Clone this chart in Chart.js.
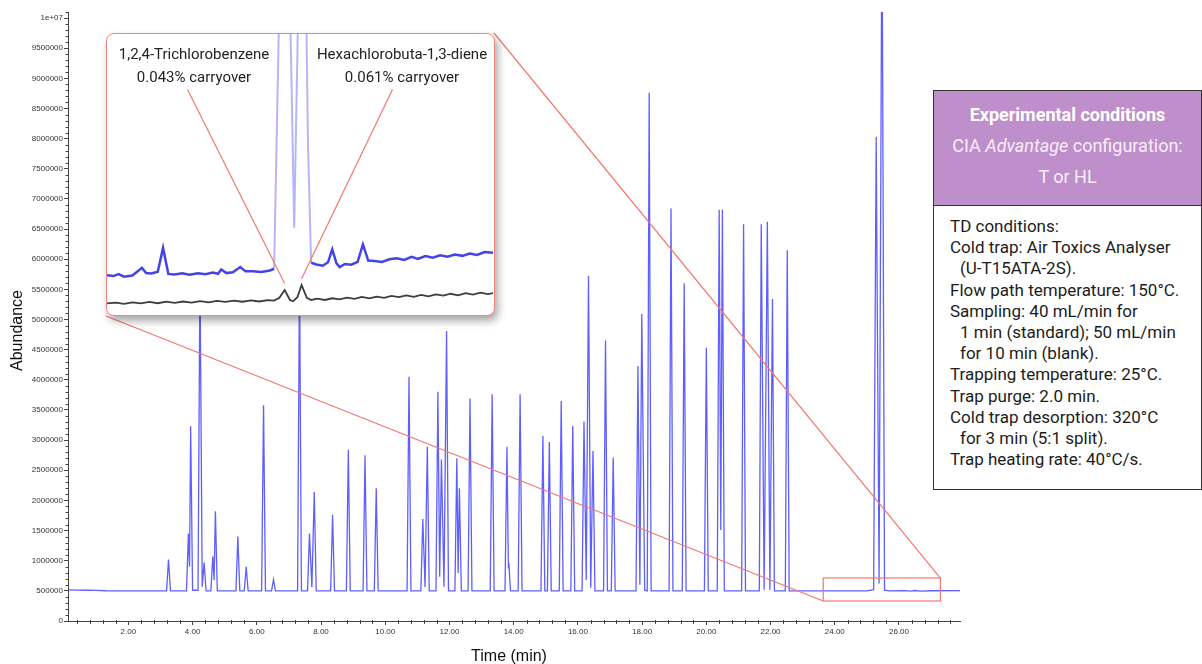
<!DOCTYPE html>
<html>
<head>
<meta charset="utf-8">
<script src="https://cdn.jsdelivr.net/npm/chart.js@4.4.1/dist/chart.umd.min.js"></script>
<style>
  html, body { margin: 0; padding: 0; background: #fff; }
  #wrap { position: relative; width: 1202px; height: 664px; overflow: hidden; background: #fff; }
  #main { position: absolute; left: 0; top: 0; }
  #inset { position: absolute; left: 106px; top: 33px; width: 389px; height: 283px; box-sizing: border-box;
           border: 1.5px solid #f2857d; border-radius: 8px; background: #fff;
           box-shadow: 3px 5px 8px rgba(0,0,0,0.35); overflow: hidden; }
  #insetCanvas { position: absolute; left: 0; top: 0; }
  .note { position: absolute; font-family: Roboto, "Noto Sans", sans-serif; font-size: 15px; color: #222;
          text-align: center; line-height: 22.5px; white-space: nowrap; transform: translateX(-50%); }
  #cond { position: absolute; left: 933px; top: 90px; width: 269px; height: 400px; box-sizing: border-box;
          border: 1px solid #333; background: #fff; font-family: Roboto, "Noto Sans", sans-serif; color: #1c1c1c; }
  #cond .head { height: 115px; box-sizing: border-box; background: #bf8fcb; border-bottom: 1px solid #333;
                text-align: center; padding-top: 8px; line-height: 31px; font-size: 18px; }
  #cond .h1 { color: #fff; font-weight: bold; }
  #cond .h2 { color: #f7eef9; }
  #cond .body { padding: 10px 0 0 16px; font-size: 17px; line-height: 21.2px; white-space: nowrap; }
  #cond .ind { padding-left: 10px; }
</style>
</head>
<body>
<div id="wrap">
  <canvas id="main" width="1202" height="664"></canvas>
  <div id="inset"><canvas id="insetCanvas" width="386" height="280"></canvas></div>
  <div class="note" style="left:194px; top:43px;">1,2,4-Trichlorobenzene<br>0.043% carryover</div>
  <div class="note" style="left:402px; top:43px;">Hexachlorobuta-1,3-diene<br>0.061% carryover</div>
  <div id="cond">
    <div class="head">
      <div class="h1">Experimental conditions</div>
      <div class="h2">CIA <i>Advantage</i> configuration:</div>
      <div class="h2">T or HL</div>
    </div>
    <div class="body">
      <div>TD conditions:</div>
      <div>Cold trap: Air Toxics Analyser</div>
      <div class="ind">(U-T15ATA-2S).</div>
      <div>Flow path temperature: 150°C.</div>
      <div>Sampling: 40 mL/min for</div>
      <div class="ind">1 min (standard); 50 mL/min</div>
      <div class="ind">for 10 min (blank).</div>
      <div>Trapping temperature: 25°C.</div>
      <div>Trap purge: 2.0 min.</div>
      <div>Cold trap desorption: 320°C</div>
      <div class="ind">for 3 min (5:1 split).</div>
      <div>Trap heating rate: 40°C/s.</div>
    </div>
  </div>
</div>
<script>
// ---------------- data ----------------
// Main chromatogram (standard run): retention time (min) and abundance
const traceTime = [
  0.12, 0.40, 0.70, 1.00, 1.30, 2.00, 3.19, 3.25, 3.31,
  3.81, 3.87, 3.905, 3.94, 4.00, 4.17, 4.23, 4.30, 4.36, 4.42,
  4.57, 4.63, 4.67, 4.71, 4.77, 5.35, 5.41, 5.47, 5.61, 5.67, 5.73,
  6.15, 6.21, 6.27, 6.46, 6.52, 6.58, 7.27, 7.33, 7.39,
  7.58, 7.64, 7.715, 7.79, 7.85, 8.30, 8.36, 8.42, 8.79, 8.85, 8.91,
  9.31, 9.37, 9.43, 9.66, 9.72, 9.78, 10.68, 10.74, 10.80,
  11.11, 11.17, 11.24, 11.31, 11.37, 11.58, 11.64, 11.695, 11.75, 11.83, 11.91, 11.97,
  12.17, 12.23, 12.27, 12.31, 12.37, 12.58, 12.64, 12.70, 13.27, 13.33, 13.39,
  13.73, 13.79, 13.835, 13.85, 13.90, 14.14, 14.20, 14.26, 14.85, 14.91, 14.97,
  15.05, 15.11, 15.17, 15.42, 15.48, 15.54, 15.78, 15.84, 15.90,
  16.13, 16.19, 16.26, 16.33, 16.40, 16.47, 16.53, 16.80, 16.86, 16.92, 17.04, 17.10, 17.16,
  17.81, 17.87, 17.93, 17.99, 18.08, 18.16, 18.22, 18.28, 18.84, 18.90, 18.96,
  19.25, 19.31, 19.37, 19.94, 20.00, 20.06, 20.34, 20.40, 20.45, 20.50, 20.56,
  21.10, 21.16, 21.22, 21.65, 21.71, 21.80, 21.90, 21.98, 22.06, 22.12,
  22.46, 22.52, 22.58, 24.00, 25.00, 25.21, 25.29, 25.38, 25.47, 25.55, 25.70,
  26.20, 26.35, 26.50, 26.65, 27.00, 27.90
];
const traceAbundance = [
  515000, 512000, 510000, 508000, 502000, 500000, 500000, 1020000, 500000,
  500000, 1450000, 900000, 3230000, 510000, 510000, 5800000, 570000, 970000, 500000,
  500000, 1070000, 680000, 1820000, 500000, 500000, 1400000, 500000, 500000, 900000, 500000,
  500000, 3580000, 500000, 500000, 690000, 500000, 500000, 5800000, 500000,
  500000, 1450000, 560000, 2140000, 500000, 500000, 1760000, 500000, 500000, 2840000, 500000,
  500000, 2750000, 500000, 500000, 2200000, 500000, 500000, 4050000, 500000,
  500000, 1690000, 560000, 2890000, 500000, 500000, 3800000, 735000, 2680000, 570000, 4810000, 500000,
  500000, 2700000, 796000, 2200000, 500000, 500000, 3690000, 500000, 500000, 3760000, 500000,
  500000, 2890000, 880000, 960000, 500000, 500000, 3760000, 500000, 500000, 3070000, 500000,
  500000, 2970000, 500000, 500000, 3650000, 500000, 500000, 3240000, 500000,
  500000, 3310000, 680000, 5720000, 550000, 2820000, 500000, 500000, 4650000, 500000, 500000, 2710000, 500000,
  500000, 4230000, 600000, 5090000, 510000, 500000, 8760000, 500000, 500000, 6840000, 500000,
  500000, 5600000, 500000, 500000, 4530000, 500000, 500000, 6820000, 1510000, 6820000, 500000,
  500000, 6580000, 500000, 500000, 6580000, 520000, 6620000, 520000, 5340000, 500000,
  500000, 6150000, 500000, 498000, 500000, 520000, 8030000, 620000, 12000000, 510000, 500000,
  505000, 495000, 506000, 497000, 502000, 505000
];

// Inset: zoomed window 23.64–27.29 min, standard (blue) and blank (black) runs
const insetStdTime = [
  23.64, 23.70, 23.75, 23.80, 23.88, 23.93, 23.97, 24.01, 24.06, 24.12, 24.17, 24.22,
  24.28, 24.35, 24.42, 24.50, 24.57, 24.64, 24.69, 24.72, 24.77, 24.83, 24.90, 24.95,
  25.02, 25.10, 25.18, 25.22, 25.26, 25.31, 25.38, 25.41, 25.44, 25.49, 25.54, 25.57,
  25.62, 25.68, 25.73, 25.77, 25.81, 25.84, 25.89, 25.95, 26.01, 26.06, 26.11, 26.17,
  26.24, 26.31, 26.38, 26.45, 26.52, 26.58, 26.65, 26.72, 26.79, 26.86, 26.93, 27.00,
  27.07, 27.14, 27.21, 27.29
];
const insetStdAbundance = [
  498000, 497600, 498500, 497300, 497900, 499800, 501500, 499000, 498800, 499600, 510700, 498600,
  498300, 498900, 498200, 498900, 498500, 499300, 498700, 500700, 499000, 499400, 501800, 499800,
  499900, 499500, 500200, 501000, 600000, 750000, 600000, 520000, 600000, 750000, 560000, 503800,
  503000, 502400, 504000, 510000, 503500, 501800, 503200, 502900, 504200, 512300, 504800, 504600,
  504200, 505400, 505900, 505100, 506500, 505600, 506900, 506100, 507300, 506600, 507600, 507000,
  508100, 507400, 508800, 508400
];
const insetBlankTime = [
  23.64, 23.72, 23.80, 23.88, 23.96, 24.04, 24.12, 24.20, 24.28, 24.36, 24.44, 24.52,
  24.60, 24.68, 24.76, 24.84, 24.92, 25.00, 25.08, 25.16, 25.22, 25.27, 25.32, 25.37,
  25.40, 25.44, 25.48, 25.53, 25.57, 25.63, 25.70, 25.77, 25.84, 25.91, 25.98, 26.05,
  26.12, 26.19, 26.26, 26.33, 26.40, 26.47, 26.54, 26.61, 26.68, 26.75, 26.82, 26.89,
  26.96, 27.03, 27.10, 27.17, 27.24, 27.29
];
const insetBlankAbundance = [
  484900, 485300, 484700, 485400, 484900, 485600, 485000, 485700, 485200, 485800, 485300, 486000,
  485400, 486100, 485600, 486200, 485700, 486300, 485800, 486400, 486200, 487500, 491100, 486500,
  485900, 487800, 493400, 487500, 486500, 487100, 486500, 487300, 486800, 487600, 487000, 487900,
  487300, 488100, 487500, 488400, 487800, 488600, 488000, 488900, 488200, 489100, 488500, 489400,
  488700, 489700, 489000, 489900, 489200, 489700
];
// Labelled carryover peaks in the blank run
const carryoverPeakTime = [25.32, 25.48];
const carryoverPeakAbundance = [491100, 493400];

// Zoom window marked on the main chromatogram
const zoomWindowTime = [23.64, 27.29];
const zoomWindowAbundance = [332000, 713000];

// Axis ticks, labels and titles
const xTickValues = [2, 4, 6, 8, 10, 12, 14, 16, 18, 20, 22, 24, 26];
const xTickLabels = ['2.00','4.00','6.00','8.00','10.00','12.00','14.00','16.00','18.00','20.00','22.00','24.00','26.00'];
const yTickValues = [0, 500000, 1000000, 1500000, 2000000, 2500000, 3000000, 3500000, 4000000, 4500000,
  5000000, 5500000, 6000000, 6500000, 7000000, 7500000, 8000000, 8500000, 9000000, 9500000, 10000000];
const yTickLabels = ['0','500000','1000000','1500000','2000000','2500000','3000000','3500000','4000000','4500000',
  '5000000','5500000','6000000','6500000','7000000','7500000','8000000','8500000','9000000','9500000','1e+07'];
const xAxisTitle = 'Time (min)';
const yAxisTitle = 'Abundance';
const xMinorStep = 0.4;
const yMinorStep = 100000;

// ---------------- main chart ----------------
const RED = '#f2786e';
const INSET_BOX = { left: 106, top: 33, right: 494, bottom: 316 };
const TITLE_FONT = '16px "Liberation Sans", Arial, sans-serif';

const mainExtras = {
  id: 'mainExtras',
  afterDraw(chart) {
    const { ctx, chartArea: a, scales: { x, y } } = chart;
    ctx.save();
    // minor ticks
    ctx.strokeStyle = '#444';
    ctx.lineWidth = 1;
    ctx.beginPath();
    for (let i = 1; i * yMinorStep <= y.max; i++) {
      if (i % 5 === 0) continue;
      const py = Math.round(y.getPixelForValue(i * yMinorStep)) + 0.5;
      ctx.moveTo(a.left - 2.5, py); ctx.lineTo(a.left + 1, py);
    }
    for (let i = 1; i * xMinorStep <= x.max; i++) {
      if (i % 5 === 0) continue;
      const px = Math.round(x.getPixelForValue(i * xMinorStep)) + 0.5;
      ctx.moveTo(px, a.bottom - 1); ctx.lineTo(px, a.bottom + 3);
    }
    ctx.stroke();
    // zoom window rectangle and connector lines
    const x0 = x.getPixelForValue(zoomWindowTime[0]);
    const x1 = x.getPixelForValue(zoomWindowTime[1]);
    const yb = y.getPixelForValue(zoomWindowAbundance[0]);
    const yt = y.getPixelForValue(zoomWindowAbundance[1]);
    ctx.strokeStyle = RED;
    ctx.lineWidth = 1.2;
    ctx.strokeRect(x0, yt, x1 - x0, yb - yt);
    ctx.beginPath();
    ctx.moveTo(INSET_BOX.left, INSET_BOX.bottom); ctx.lineTo(x0, yb);
    ctx.moveTo(INSET_BOX.right, INSET_BOX.top); ctx.lineTo(x1, yt);
    ctx.stroke();
    // axis titles
    ctx.fillStyle = '#111';
    ctx.font = TITLE_FONT;
    ctx.textAlign = 'center';
    ctx.textBaseline = 'middle';
    ctx.fillText(xAxisTitle, (a.left + a.right) / 2 - 5, 657);
    ctx.translate(17.5, (a.top + a.bottom) / 2 + 14);
    ctx.rotate(-Math.PI / 2);
    ctx.fillText(yAxisTitle, 0, 0);
    ctx.restore();
  }
};

new Chart(document.getElementById('main'), {
  type: 'line',
  data: {
    datasets: [{
      label: 'Standard',
      data: traceTime.map((t, i) => ({ x: t, y: traceAbundance[i] })),
      borderColor: 'rgba(55,55,255,0.8)',
      borderWidth: 1.3,
      pointRadius: 0,
      tension: 0,
      fill: false
    }]
  },
  options: {
    responsive: false,
    animation: false,
    devicePixelRatio: 1,
    events: [],
    parsing: false,
    layout: { padding: { left: 0, right: 242, top: 12, bottom: 0 } },
    plugins: { legend: { display: false }, tooltip: { enabled: false } },
    scales: {
      x: {
        type: 'linear', min: 0.12, max: 27.9,
        afterBuildTicks: s => { s.ticks = xTickValues.map(v => ({ value: v })); },
        afterFit: s => { s.height = 43; },
        grid: { display: true, drawOnChartArea: false, drawTicks: true, tickLength: 4, color: '#444', tickColor: '#444' },
        border: { display: true, color: '#444', width: 1 },
        ticks: {
          autoSkip: false, maxRotation: 0, padding: 2, color: '#333',
          font: { family: '"Liberation Sans", Arial, sans-serif', size: 8 },
          callback: (v, i) => xTickLabels[i]
        },
        title: { display: false, text: xAxisTitle }
      },
      y: {
        type: 'linear', min: 0, max: 10100000,
        afterBuildTicks: s => { s.ticks = yTickValues.map(v => ({ value: v })); },
        afterFit: s => { s.width = 68; },
        grid: { display: true, drawOnChartArea: false, drawTicks: true, tickLength: 4, color: '#444', tickColor: '#444' },
        border: { display: true, color: '#444', width: 1 },
        ticks: {
          autoSkip: false, padding: 1, color: '#333',
          font: { family: '"Liberation Sans", Arial, sans-serif', size: 8 },
          callback: (v, i) => yTickLabels[i]
        },
        title: { display: false, text: yAxisTitle }
      }
    }
  },
  plugins: [mainExtras]
});

// ---------------- inset chart ----------------
const insetLeaders = {
  id: 'insetLeaders',
  afterDatasetsDraw(chart) {
    const { ctx, scales: { x, y } } = chart;
    const starts = [[80.5, 55.5], [285.5, 55.5]];
    ctx.save();
    ctx.strokeStyle = RED;
    ctx.lineWidth = 1.2;
    ctx.beginPath();
    carryoverPeakTime.forEach((t, i) => {
      ctx.moveTo(starts[i][0], starts[i][1]);
      ctx.lineTo(x.getPixelForValue(t), y.getPixelForValue(carryoverPeakAbundance[i]) - 6.5);
    });
    ctx.stroke();
    ctx.restore();
  }
};

new Chart(document.getElementById('insetCanvas'), {
  type: 'line',
  data: {
    datasets: [
      {
        label: 'Standard',
        data: insetStdTime.map((t, i) => ({ x: t, y: insetStdAbundance[i] })),
        borderColor: 'rgba(35,35,225,0.85)',
        borderWidth: 2.5,
        pointRadius: 0,
        tension: 0,
        segment: {
          borderColor: c => (c.p0.parsed.y > 515000 || c.p1.parsed.y > 515000) ? 'rgba(120,120,240,0.55)' : undefined,
          borderWidth: c => (c.p0.parsed.y > 515000 || c.p1.parsed.y > 515000) ? 2 : undefined
        }
      },
      {
        label: 'Blank',
        data: insetBlankTime.map((t, i) => ({ x: t, y: insetBlankAbundance[i] })),
        borderColor: 'rgba(40,40,40,0.9)',
        borderWidth: 1.8,
        pointRadius: 0,
        tension: 0
      }
    ]
  },
  options: {
    responsive: false,
    animation: false,
    devicePixelRatio: 1,
    events: [],
    parsing: false,
    layout: { padding: 0 },
    plugins: { legend: { display: false }, tooltip: { enabled: false } },
    scales: {
      x: { type: 'linear', display: false, min: 23.64, max: 27.29 },
      y: { type: 'linear', display: false, min: 480000, max: 610000 }
    }
  },
  plugins: [insetLeaders]
});
</script>
</body>
</html>
